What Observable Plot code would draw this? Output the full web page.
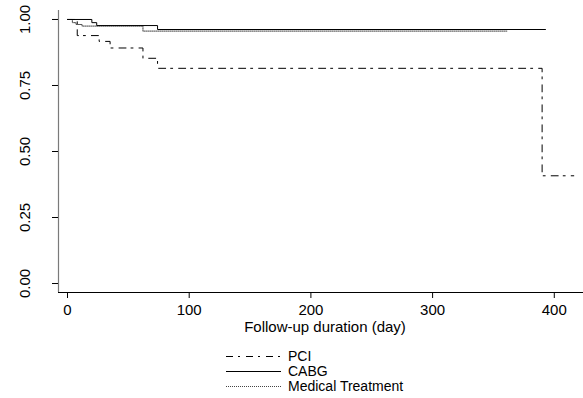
<!DOCTYPE html>
<html>
<head>
<meta charset="utf-8">
<script src="https://cdn.jsdelivr.net/npm/d3@7"></script>
<script src="https://cdn.jsdelivr.net/npm/@observablehq/plot@0.6"></script>
<style>
  html, body { margin: 0; padding: 0; background: #fff; }
  #chart svg, #legend svg { display: block; }
  text { font-family: "Liberation Sans", Arial, sans-serif; }
</style>
</head>
<body>
<div id="chart"></div>
<div id="legend"></div>
<script>
// Kaplan-Meier step data
const seriesNames = ["PCI", "CABG", "Medical Treatment"];
const pciDays = [0, 8, 26, 35, 62, 74, 390, 416];
const pciSurv = [1, 0.939, 0.917, 0.892, 0.853, 0.815, 0.408, 0.408];
const cabgDays = [0, 20, 24, 74, 393];
const cabgSurv = [1, 0.988, 0.977, 0.962, 0.962];
const medDays = [0, 4, 7, 12, 62, 361];
const medSurv = [1, 0.988, 0.981, 0.975, 0.956, 0.956];
const yTicks = [0, 0.25, 0.5, 0.75, 1];
const xTicks = [0, 100, 200, 300, 400];
const xLabel = "Follow-up duration (day)";

const dashes = {"PCI": "7,5,2,6", "CABG": null, "Medical Treatment": "1,1"};
const strokes = {"PCI": "#000", "CABG": "#000", "Medical Treatment": "#444"};

function toRows(name, days, surv) {
  return days.map((d, i) => ({series: name, day: d, surv: surv[i]}));
}
const pci = toRows("PCI", pciDays, pciSurv);
const cabg = toRows("CABG", cabgDays, cabgSurv);
const med = toRows("Medical Treatment", medDays, medSurv);

const xDom = [-7.4, 424];
const yDom = [-0.034, 1.034];
const tickFs = 15;
const labelFs = 15;
const legendFs = 14;

const plot = Plot.plot({
  width: 583,
  height: 340,
  marginTop: 10,
  marginBottom: 48,
  marginLeft: 58,
  marginRight: 0,
  style: {fontFamily: "'Liberation Sans', Arial, sans-serif", fontSize: tickFs + "px", background: "#fff"},
  x: {domain: xDom, axis: null},
  y: {domain: yDom, axis: null},
  marks: [
    // axis lines
    Plot.ruleX([xDom[0]], {y1: yDom[0], y2: yDom[1], stroke: "#7a7a7a", strokeWidth: 1.2}),
    Plot.ruleY([yDom[0]], {x1: xDom[0], x2: xDom[1], stroke: "#000", strokeWidth: 1.2}),
    // y ticks + labels
    Plot.axisY({ticks: yTicks, tickSize: 6, tickFormat: () => "", anchor: "left", stroke: "#000", label: null}),
    Plot.text(yTicks, {y: d => d, frameAnchor: "left", dx: -33, text: d => d3.format(".2f")(d), rotate: -90, textAnchor: "middle", lineAnchor: "middle", fontSize: tickFs, fill: "#000"}),
    // x ticks + labels
    Plot.axisX({ticks: xTicks, tickSize: 6, tickFormat: () => "", anchor: "bottom", stroke: "#000", label: null}),
    Plot.text(xTicks, {x: d => d, frameAnchor: "bottom", dy: 18, text: d => String(d), lineAnchor: "middle", fontSize: tickFs, fill: "#000"}),
    Plot.text([xLabel], {frameAnchor: "bottom", dx: 4, dy: 35, text: d => d, lineAnchor: "middle", fontSize: labelFs, fill: "#000"}),
    // survival curves
    Plot.line(pci, {x: "day", y: "surv", curve: "step-after", stroke: strokes["PCI"], strokeWidth: 1, strokeDasharray: dashes["PCI"]}),
    Plot.line(med, {x: "day", y: "surv", curve: "step-after", stroke: strokes["Medical Treatment"], strokeWidth: 1, strokeDasharray: dashes["Medical Treatment"]}),
    Plot.line(cabg, {x: "day", y: "surv", curve: "step-after", stroke: strokes["CABG"], strokeWidth: 1})
  ]
});
document.getElementById("chart").appendChild(plot);

// Legend below the chart
const lg = d3.select("#legend").append("svg").attr("width", 583).attr("height", 58);
seriesNames.forEach((name, i) => {
  const y = 16 + i * 15;
  const ln = lg.append("line").attr("x1", 226).attr("x2", 281).attr("y1", y + 0.5).attr("y2", y + 0.5)
    .attr("stroke", strokes[name]).attr("stroke-width", 1);
  if (dashes[name]) ln.attr("stroke-dasharray", dashes[name]);
  lg.append("text").attr("x", 288).attr("y", y).attr("dy", "0.35em")
    .attr("font-size", legendFs).attr("fill", "#000").text(name);
});
</script>
</body>
</html>
